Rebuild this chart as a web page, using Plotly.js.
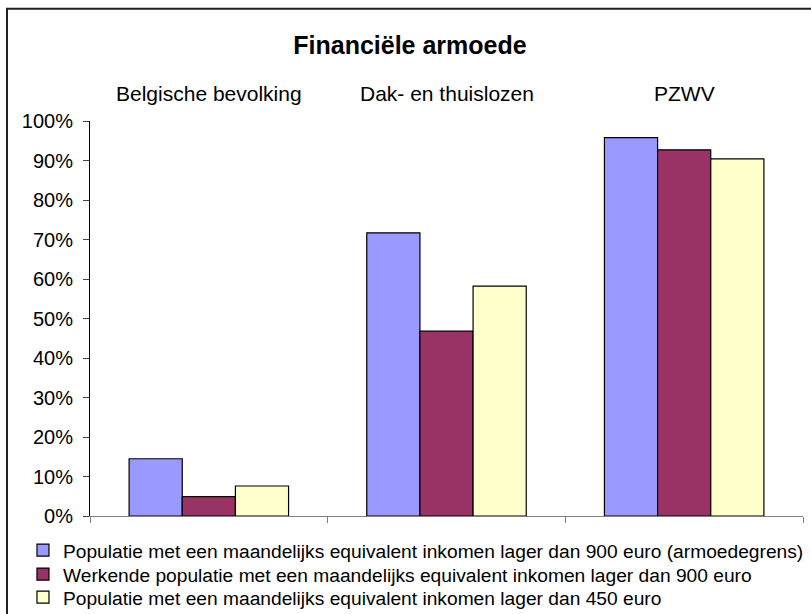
<!DOCTYPE html>
<html>
<head>
<meta charset="utf-8">
<script src="https://cdn.plot.ly/plotly-3.0.1.min.js"></script>
<style>html,body{margin:0;padding:0;background:#fff;}#chart{width:811px;height:614px;}</style>
</head>
<body>
<div id="chart"></div>
<script>
var categories = ['Belgische bevolking', 'Dak- en thuislozen', 'PZWV'];
var seriesNames = [
  'Populatie met een maandelijks equivalent inkomen lager dan 900 euro (armoedegrens)',
  'Werkende populatie met een maandelijks equivalent inkomen lager dan 900 euro',
  'Populatie met een maandelijks equivalent inkomen lager dan 450 euro'
];
var armoedegrens900 = [14.5, 71.7, 95.8];
var werkend900 = [4.9, 46.8, 92.7];
var populatie450 = [7.6, 58.2, 90.4];
var colors = ['#9999FF', '#993366', '#FFFFCC'];
var chartTitle = 'Financiële armoede';
var yTicks = [0, 10, 20, 30, 40, 50, 60, 70, 80, 90, 100];

var FONT = 'Liberation Sans, Arial, sans-serif';
var allSeries = [armoedegrens900, werkend900, populatie450];
var legendIds = ['legend', 'legend2', 'legend3'];
var legendY = [-0.0862, -0.1471, -0.2054];

var traces = allSeries.map(function (vals, i) {
  return {
    type: 'bar',
    x: categories,
    y: vals,
    name: seriesNames[i],
    legend: legendIds[i],
    showlegend: true,
    marker: {color: colors[i], line: {color: '#000', width: 1.2}},
    hoverinfo: 'x+y'
  };
});

var layout = {
  width: 811, height: 614,
  showlegend: true,
  margin: {l: 90, r: 8, t: 121, b: 98, autoexpand: false},
  paper_bgcolor: '#fff', plot_bgcolor: '#fff',
  font: {family: FONT, size: 20, color: '#000'},
  title: {text: '<b>' + chartTitle + '</b>', font: {family: FONT, size: 25, color: '#000'},
          xref: 'container', yref: 'container', x: 0.5055, xanchor: 'center', y: 0.9267, yanchor: 'middle'},
  barmode: 'group', bargap: 0.329, bargroupgap: 0,
  xaxis: {type: 'category', showticklabels: false, ticks: 'outside', tickson: 'boundaries', ticklen: 6,
          tickcolor: '#808080', showline: true, linecolor: '#808080', linewidth: 1, showgrid: false, zeroline: false},
  yaxis: {range: [0, 100], tickvals: yTicks, ticktext: yTicks.map(function (v) { return v + '%'; }),
          ticks: 'outside', ticklen: 6, tickcolor: '#444', showline: true, linecolor: '#000', linewidth: 1,
          showgrid: false, zeroline: false, ticklabelstandoff: 6, tickfont: {size: 20}},
  annotations: categories.map(function (c) {
    return {xref: 'x', yref: 'paper', x: c, y: 1.070, yanchor: 'middle', xanchor: 'center', showarrow: false,
            text: c, font: {family: FONT, size: 21, color: '#000'}};
  }),
  shapes: [{type: 'rect', xref: 'paper', yref: 'paper', x0: -0.1164, x1: 1.03, y0: -0.28, y1: 1.284,
            line: {color: '#222', width: 2}, fillcolor: 'rgba(0,0,0,0)'}]
};
legendIds.forEach(function (id, i) {
  layout[id] = {visible: true, x: -0.094, xanchor: 'left', y: legendY[i], yanchor: 'middle', bgcolor: 'rgba(0,0,0,0)',
                borderwidth: 0, font: {family: FONT, size: 19.2, color: '#000'}};
});

Plotly.newPlot('chart', traces, layout, {displayModeBar: false, staticPlot: true});
</script>
</body>
</html>
